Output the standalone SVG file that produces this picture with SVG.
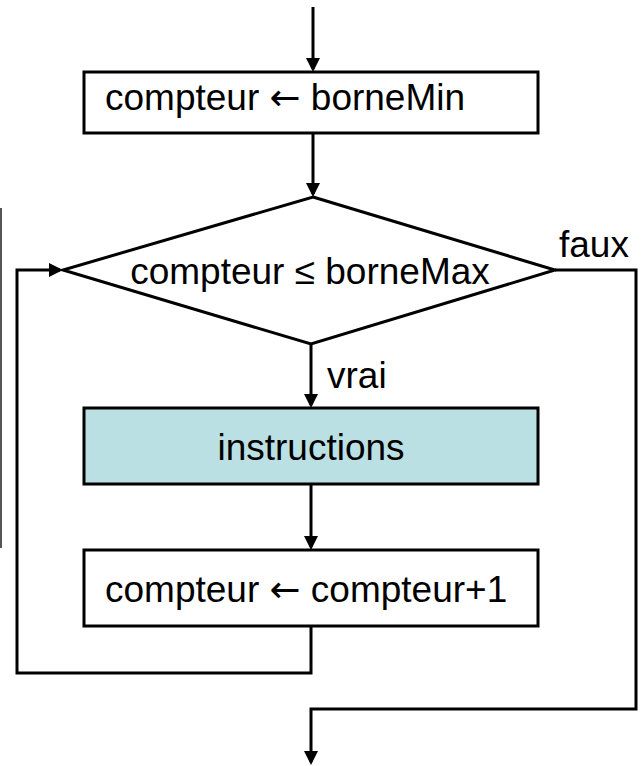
<svg xmlns="http://www.w3.org/2000/svg" width="642" height="766" viewBox="0 0 642 766">
<style>
.box{fill:#fff;stroke:#000;stroke-width:3}
.t{font-family:"Liberation Sans",Arial,sans-serif;font-size:37px;fill:#000}
.a{font-family:"DejaVu Sans",sans-serif}
.c{fill:none;stroke:#000;stroke-width:3}
</style>
<defs>
<marker id="ah" markerWidth="14" markerHeight="14" refX="11" refY="7" orient="auto" markerUnits="userSpaceOnUse" viewBox="0 0 14 14">
<path d="M0,0 L14,7 L0,14 z" fill="#000"/>
</marker>
</defs>
<rect width="642" height="766" fill="#fff"/>
<line x1="1" y1="208" x2="1" y2="548" stroke="#555" stroke-width="2"/>
<g id="connectors">
<line class="c" x1="313" y1="7" x2="313" y2="69" marker-end="url(#ah)"/>
<line class="c" x1="313" y1="133" x2="313" y2="194" marker-end="url(#ah)"/>
<line class="c" x1="311" y1="344" x2="311" y2="405" marker-end="url(#ah)"/>
<line class="c" x1="311" y1="484" x2="311" y2="547" marker-end="url(#ah)"/>
<polyline class="c" points="311,626 311,673 17,673 17,270 60,270" marker-end="url(#ah)"/>
<polyline class="c" points="555,270 636,270 636,709 311,709 311,762" marker-end="url(#ah)"/>
</g>
<g id="init">
<rect class="box" x="84" y="72" width="454" height="61"/>
<text class="t" x="105" y="110">compteur <tspan class="a">←</tspan> borneMin</text>
</g>
<g id="test">
<polygon class="box" points="313,197 555,270 311,344 63,270"/>
<text class="t" x="310" y="284" text-anchor="middle">compteur ≤ borneMax</text>
</g>
<text class="t" x="327" y="388">vrai</text>
<text class="t" x="559" y="257">faux</text>
<g id="instructions">
<rect class="box" x="84" y="408" width="454" height="76" style="fill:#BBE0E3"/>
<text class="t" x="311" y="460" text-anchor="middle">instructions</text>
</g>
<g id="incr">
<rect class="box" x="84" y="550" width="454" height="76"/>
<text class="t" x="105" y="602">compteur <tspan class="a">←</tspan> compteur+1</text>
</g>
</svg>
